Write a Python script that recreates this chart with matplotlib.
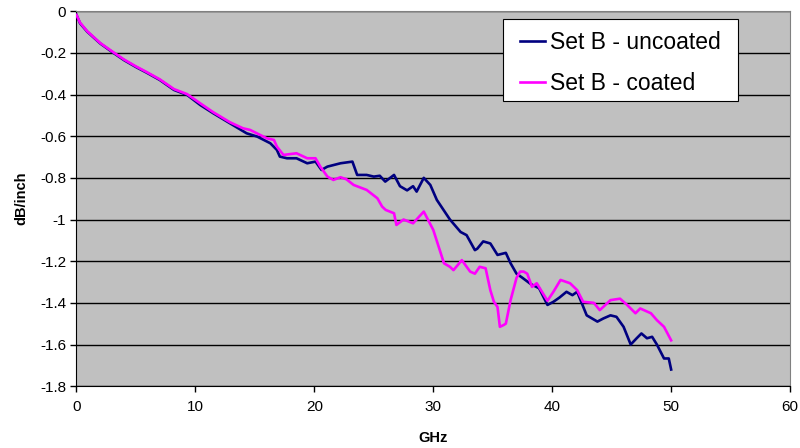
import matplotlib
matplotlib.use("Agg")
import matplotlib.pyplot as plt
from matplotlib.patches import Rectangle

plt.rcParams['font.family'] = ['Liberation Sans', 'DejaVu Sans']

# Set B - uncoated
freq_uncoated = [0, 0.3, 0.9, 2, 3.1, 4, 5, 5.9, 7, 8.2, 9.3, 10.4, 11.5, 12.9, 14.3, 15.2, 16.3,
                 16.85, 17.1, 17.7, 18.5, 19.4, 20.1, 20.6, 21.1, 22.2, 23.2, 23.6, 24.4, 25.0,
                 25.5, 25.96, 26.7, 27.2, 27.8, 28.3, 28.6, 29.2, 29.75, 30.3, 31.4, 32.3, 32.8,
                 33.5, 33.7, 34.2, 34.8, 35.4, 36.1, 36.5, 37.0, 37.5, 38.2, 38.9, 39.6, 40.1,
                 40.6, 41.2, 41.7, 42.1, 42.9, 43.8, 44.3, 44.9, 45.4, 46.0, 46.6, 47.1, 47.5,
                 47.97, 48.4, 48.8, 49.4, 49.8, 50.0]
loss_uncoated = [-0.018, -0.058, -0.098, -0.155, -0.2, -0.235, -0.268, -0.295, -0.33, -0.378,
                 -0.402, -0.45, -0.49, -0.538, -0.586, -0.602, -0.634, -0.666, -0.698, -0.706,
                 -0.706, -0.73, -0.722, -0.762, -0.746, -0.73, -0.722, -0.786, -0.786, -0.794,
                 -0.79, -0.818, -0.786, -0.84, -0.86, -0.84, -0.866, -0.80, -0.834, -0.906,
                 -1.0, -1.06, -1.075, -1.147, -1.14, -1.105, -1.115, -1.17, -1.16, -1.21,
                 -1.26, -1.28, -1.31, -1.33, -1.41, -1.395, -1.375, -1.347, -1.363, -1.347,
                 -1.46, -1.49, -1.475, -1.46, -1.467, -1.515, -1.60, -1.57, -1.547, -1.57,
                 -1.563, -1.60, -1.667, -1.667, -1.72]

# Set B - coated
freq_coated = [0, 0.3, 0.9, 2, 3.1, 4, 5, 5.9, 7, 8.2, 9.3, 10.4, 11.5, 12.9, 14.0, 14.6, 16.0,
               16.6, 16.85, 17.4, 18.5, 19.4, 20.1, 20.5, 21.1, 21.6, 22.2, 22.7, 23.3, 24.4,
               25.3, 25.7, 26.0, 26.7, 26.9, 27.5, 28.3, 29.2, 30.0, 30.9, 31.4, 31.7, 32.4,
               33.1, 33.5, 33.9, 34.4, 34.8, 35.1, 35.4, 35.6, 35.9, 36.1, 36.5, 37.0, 37.3,
               37.6, 37.9, 38.3, 38.7, 39.6, 40.1, 40.7, 41.5, 42.1, 42.6, 43.5, 44.0, 44.9,
               45.7, 46.3, 47.0, 47.4, 48.3, 48.8, 49.4, 50.0]
loss_coated = [-0.018, -0.055, -0.096, -0.153, -0.197, -0.232, -0.265, -0.292, -0.327, -0.374,
               -0.398, -0.442, -0.485, -0.533, -0.562, -0.57, -0.61, -0.618, -0.65, -0.69,
               -0.682, -0.706, -0.706, -0.746, -0.794, -0.81, -0.797, -0.807, -0.834, -0.858,
               -0.898, -0.938, -0.954, -0.97, -1.026, -1.0, -1.018, -0.962, -1.05, -1.21,
               -1.227, -1.243, -1.195, -1.25, -1.26, -1.227, -1.234, -1.34, -1.395, -1.42,
               -1.515, -1.507, -1.50, -1.387, -1.28, -1.25, -1.25, -1.26, -1.323, -1.306,
               -1.39, -1.347, -1.29, -1.306, -1.339, -1.395, -1.40, -1.435, -1.387, -1.38,
               -1.41, -1.45, -1.427, -1.45, -1.483, -1.515, -1.58]

x_ticks = [0, 10, 20, 30, 40, 50, 60]
y_ticks = [0, -0.2, -0.4, -0.6, -0.8, -1.0, -1.2, -1.4, -1.6, -1.8]
y_tick_labels = ["0", "-0.2", "-0.4", "-0.6", "-0.8", "-1", "-1.2", "-1.4", "-1.6", "-1.8"]

W, H = 800, 448
fig = plt.figure(figsize=(8, 4.48), dpi=100)
ax = fig.add_axes([0.0956, 0.138, 0.892, 0.837])
ax.set_facecolor('#C0C0C0')

ax.plot(freq_uncoated, loss_uncoated, color='#000080', lw=1.9, label='Set B - uncoated', zorder=3)
ax.plot(freq_coated, loss_coated, color='#FF00FF', lw=1.9, label='Set B - coated', zorder=3)

ax.set_xlim(0, 60)
ax.set_ylim(-1.8, 0)
ax.set_xticks(x_ticks)
ax.set_yticks(y_ticks)
ax.set_yticklabels(y_tick_labels)
ax.tick_params(axis='both', labelsize=11, direction='out', length=4, width=1, colors='black')
ax.tick_params(axis='x', pad=6)
ax.yaxis.grid(True, color='black', lw=1)
ax.set_axisbelow(True)

for s in ['top', 'right']:
    ax.spines[s].set_color('#808080')
for s in ['left', 'bottom']:
    ax.spines[s].set_color('black')

ax.set_xlabel('GHz', fontsize=10.5, fontweight='bold', labelpad=12)
ax.set_ylabel('dB/inch', fontsize=10.5, fontweight='bold', labelpad=8)

# legend frame box
fig.patches.append(Rectangle((503 / W, 1 - 101 / H), 235 / W, 82 / H,
                             transform=fig.transFigure, facecolor='white',
                             edgecolor='black', lw=0.8, zorder=4))
leg = fig.legend(loc='upper left', bbox_to_anchor=(520 / W, 1 - 31 / H),
                 bbox_transform=fig.transFigure, fontsize=16.5,
                 frameon=False, handlelength=1.1, handletextpad=0.22,
                 borderpad=0, labelspacing=0.8, borderaxespad=0)
leg.set_zorder(5)

fig.savefig('out.png', dpi=100)
